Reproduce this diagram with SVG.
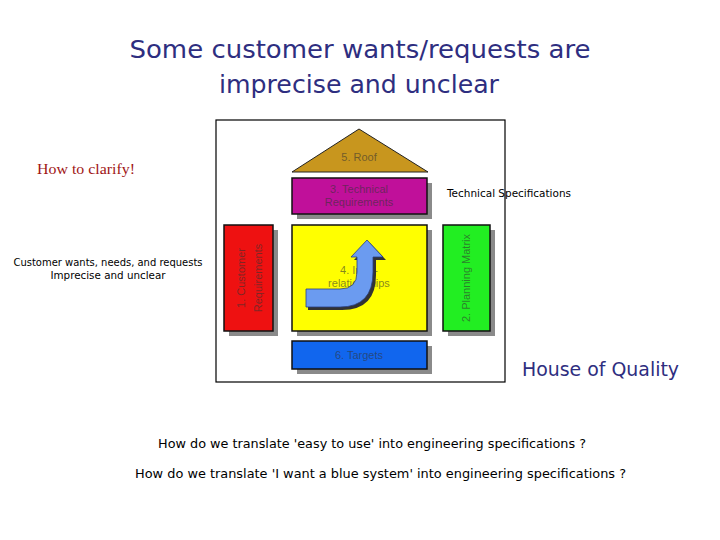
<svg xmlns="http://www.w3.org/2000/svg" width="720" height="540" viewBox="0 0 720 540">
<style>
.box{stroke:#111;stroke-width:1.5}
.sh{fill:#8a8a8a}
.in{font-family:"Liberation Sans",Arial,sans-serif;font-size:11px;fill:#333;fill-opacity:0.6;text-anchor:middle}
.hand{font-family:"DejaVu Sans","Liberation Sans",sans-serif;fill:#000}
.navy{font-family:"DejaVu Sans","Liberation Sans",sans-serif;fill:#2e2e80}
</style>
<rect width="720" height="540" fill="#fff"/>
<g id="title">
<text class="navy" x="360" y="58" font-size="25" text-anchor="middle" textLength="461" lengthAdjust="spacingAndGlyphs">Some customer wants/requests are</text>
<text class="navy" x="359" y="93" font-size="25" text-anchor="middle" textLength="280" lengthAdjust="spacingAndGlyphs">imprecise and unclear</text>
</g>
<g id="frame"><rect x="216" y="120" width="289" height="262" fill="none" stroke="#000" stroke-width="1.2"/></g>
<g id="roof">
<polygon points="359,129 292,172 428,172" fill="#c8961e" stroke="#222" stroke-width="1"/>
<text class="in" x="359" y="161">5. Roof</text>
</g>
<g id="tech-req">
<rect class="sh" x="297" y="183" width="135" height="36"/>
<rect class="box" x="292" y="178" width="135" height="36" fill="#c0109a"/>
<text class="in" x="359" y="193">3. Technical</text>
<text class="in" x="359" y="206">Requirements</text>
</g>
<g id="customer-req">
<rect class="sh" x="229" y="230" width="49" height="106"/>
<rect class="box" x="224" y="225" width="49" height="106" fill="#ee1111"/>
<text class="in" transform="translate(245,278) rotate(-90)">1. Customer</text>
<text class="in" transform="translate(262,278) rotate(-90)">Requirements</text>
</g>
<g id="relationships">
<rect class="sh" x="297" y="230" width="135" height="106"/>
<rect class="box" x="292" y="225" width="135" height="106" fill="#ffff00"/>
<text class="in" x="359" y="274">4. Inter-</text>
<text class="in" x="359" y="287">relationships</text>
<path d="M308,292 L342,292 Q360,292 360,275 L360,260 L354,260 L370,243 L386,260 L376,260 L376,275 Q376,310 342,310 L308,310 Z" fill="#333"/>
<path d="M306,289 L340,289 Q357,289 357,272 L357,257 L351,257 L367,240 L383,257 L373,257 L373,272 Q373,307 340,307 L306,307 Z" fill="#6b9bf0" stroke="#2a3f80" stroke-width="0.8"/>
</g>
<g id="planning-matrix">
<rect class="sh" x="448" y="230" width="47" height="106"/>
<rect class="box" x="443" y="225" width="47" height="106" fill="#22ee22"/>
<text class="in" transform="translate(470,278) rotate(-90)">2. Planning Matrix</text>
</g>
<g id="targets">
<rect class="sh" x="297" y="346" width="135" height="28"/>
<rect class="box" x="292" y="341" width="135" height="28" fill="#1166ee"/>
<text class="in" x="359" y="359">6. Targets</text>
</g>
<g id="labels">
<text x="37" y="174" font-family="'Liberation Serif',serif" font-size="15" fill="#a01515" textLength="98" lengthAdjust="spacingAndGlyphs">How to clarify!</text>
<text class="hand" x="447" y="197" font-size="11" textLength="124" lengthAdjust="spacingAndGlyphs">Technical Specifications</text>
<text class="hand" x="108" y="266" font-size="11" text-anchor="middle" textLength="189" lengthAdjust="spacingAndGlyphs">Customer wants, needs, and requests</text>
<text class="hand" x="108" y="279" font-size="11" text-anchor="middle" textLength="115" lengthAdjust="spacingAndGlyphs">Imprecise and unclear</text>
<text class="navy" x="522" y="376" font-size="19" textLength="157" lengthAdjust="spacingAndGlyphs">House of Quality</text>
<text class="hand" x="158" y="448" font-size="13" textLength="428" lengthAdjust="spacingAndGlyphs">How do we translate 'easy to use' into engineering specifications ?</text>
<text class="hand" x="135" y="478" font-size="13" textLength="491" lengthAdjust="spacingAndGlyphs">How do we translate 'I want a blue system' into engineering specifications ?</text>
</g>
</svg>
